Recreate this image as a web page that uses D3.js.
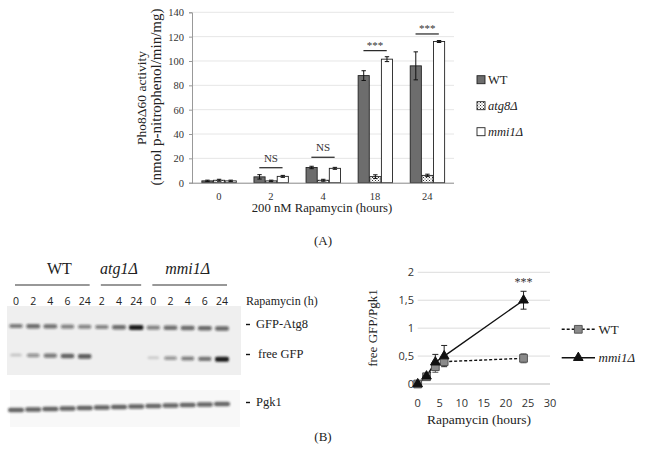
<!DOCTYPE html>
<html><head><meta charset="utf-8">
<script src="https://cdn.jsdelivr.net/npm/d3@7"></script>
<style>
html,body{margin:0;padding:0;background:#fff;}
svg{display:block;}
</style></head>
<body>
<script>
// ---------- Panel A data ----------
const categories = ["0", "2", "4", "18", "24"];
const seriesNames = ["WT", "atg8Δ", "mmi1Δ"];
const wtValues   = [1.5, 4.8, 12.5, 88, 96];
const wtErrors   = [0.6, 1.8, 1.0, 4, 11.5];
const atg8Values = [2, 1.5, 2, 5, 6];
const atg8Errors = [0.8, 0.6, 0.8, 1.5, 1];
const mmi1Values = [1.5, 5.2, 11.8, 101.5, 116];
const mmi1Errors = [0.6, 0.8, 0.8, 2, 0.8];
const yTicksA = [0, 20, 40, 60, 80, 100, 120, 140];
const sigCategories = ["2", "4", "18", "24"];
const sigLabels = ["NS", "NS", "***", "***"];
const sigLevels = [12.3, 20.9, 108.5, 122.2];

// ---------- Panel B blot data ----------
const laneGroups = ["WT", "atg1Δ", "mmi1Δ"];
const laneLabels = ["0","2","4","6","24","2","4","24","0","2","4","6","24"];
const gfpAtg8Intensity = [0.6,0.72,0.7,0.55,0.55,0.55,0.72,1.0,0.55,0.7,0.72,0.75,0.75];
const freeGfpIntensity = [0.1,0.45,0.65,0.78,0.82,0,0,0,0.06,0.42,0.58,0.68,1.0];
const pgk1Intensity    = [0.8,0.8,0.8,0.8,0.8,0.8,0.8,0.8,0.78,0.78,0.78,0.78,0.78];
const bandLabels = ["GFP-Atg8", "free GFP", "Pgk1"];

// ---------- Panel B line chart data ----------
const hours = [0, 2, 4, 6, 24];
const wtRatio = [0, 0.13, 0.31, 0.4, 0.46];
const wtRatioErr = [0, 0.02, 0.1, 0.05, 0.08];
const mmi1Ratio = [0, 0.14, 0.39, 0.5, 1.5];
const mmi1RatioErr = [0, 0.02, 0.14, 0.19, 0.16];
const yTicksB = [0, 0.5, 1, 1.5, 2];
const xTicksB = [0, 5, 10, 15, 20, 25, 30];

const SERIF = "'Liberation Serif', 'Times New Roman', serif";
const SANS = "'Open Sans', 'Liberation Sans', sans-serif";

const svg = d3.select("body").append("svg").attr("width", 648).attr("height", 451)
  .style("background", "#fff");
const defs = svg.append("defs");
const pat = defs.append("pattern").attr("id", "dots").attr("patternUnits", "userSpaceOnUse")
  .attr("width", 3).attr("height", 3);
pat.append("rect").attr("width", 3).attr("height", 3).attr("fill", "#fff");
pat.append("rect").attr("x", 0).attr("y", 0).attr("width", 1).attr("height", 1).attr("fill", "#333");
pat.append("rect").attr("x", 1.5).attr("y", 1.5).attr("width", 1).attr("height", 1).attr("fill", "#555");
const blur = defs.append("filter").attr("id", "blur").attr("x", "-50%").attr("y", "-100%").attr("width", "200%").attr("height", "300%");
blur.append("feGaussianBlur").attr("stdDeviation", "1.1 0.9");

// ================= Panel A =================
const xA = d3.scaleBand().domain(categories).range([192, 454]).paddingInner(0.33).paddingOuter(0.18);
const xSub = d3.scaleBand().domain(seriesNames).range([0, xA.bandwidth()]);
const yA = d3.scaleLinear().domain([0, 140]).range([182.7, 12.3]);

const gA = svg.append("g");
gA.append("g").selectAll("line").data(yTicksA.slice(1)).join("line")
  .attr("x1", 192).attr("x2", 454).attr("y1", d => yA(d)).attr("y2", d => yA(d))
  .attr("stroke", "#e6e6e6").attr("stroke-width", 1);
const yAxisA = gA.append("g").attr("transform", "translate(192,0)")
  .call(d3.axisLeft(yA).tickValues(yTicksA).tickSize(3).tickPadding(5));
yAxisA.select(".domain").attr("stroke", "#999");
yAxisA.selectAll(".tick line").attr("stroke", "#999");
yAxisA.selectAll("text").attr("font-family", SERIF).attr("font-size", 10.5).attr("fill", "#333");

const seriesA = [
  {name: "WT", vals: wtValues, errs: wtErrors, fill: "#6d6d6d"},
  {name: "atg8Δ", vals: atg8Values, errs: atg8Errors, fill: "url(#dots)"},
  {name: "mmi1Δ", vals: mmi1Values, errs: mmi1Errors, fill: "#fff"}
];
seriesA.forEach(s => {
  const rows = categories.map((c, i) => ({c, v: s.vals[i], e: s.errs[i]}));
  const g = gA.append("g");
  g.selectAll("rect").data(rows).join("rect")
    .attr("x", d => xA(d.c) + xSub(s.name) + 0.5)
    .attr("width", xSub.bandwidth() - 0.5)
    .attr("y", d => yA(d.v)).attr("height", d => yA(0) - yA(d.v))
    .attr("fill", s.fill).attr("stroke", "#222").attr("stroke-width", 0.9);
  const cx = d => xA(d.c) + xSub(s.name) + xSub.bandwidth() / 2 + 0.25;
  g.selectAll("line.eb").data(rows).join("line").attr("class", "eb")
    .attr("x1", cx).attr("x2", cx).attr("y1", d => yA(d.v + d.e)).attr("y2", d => yA(Math.max(0, d.v - d.e)))
    .attr("stroke", "#111").attr("stroke-width", 1);
  ["top", "bot"].forEach(k => {
    g.selectAll("line." + k).data(rows).join("line").attr("class", k)
      .attr("x1", d => cx(d) - 2.2).attr("x2", d => cx(d) + 2.2)
      .attr("y1", d => yA(k === "top" ? d.v + d.e : Math.max(0, d.v - d.e)))
      .attr("y2", d => yA(k === "top" ? d.v + d.e : Math.max(0, d.v - d.e)))
      .attr("stroke", "#111").attr("stroke-width", 1);
  });
});
const xAxisA = gA.append("g").attr("transform", `translate(0,${yA(0)})`)
  .call(d3.axisBottom(xA).tickSize(0).tickPadding(10));
xAxisA.select(".domain").attr("stroke", "#888").attr("d", "M192,0.5H454");
xAxisA.selectAll("text").attr("font-family", SERIF).attr("font-size", 10.5).attr("fill", "#333");

sigCategories.forEach((c, i) => {
  const x1 = xA(c) + xSub("WT") + xSub.bandwidth() / 2;
  const x2 = xA(c) + xSub("mmi1Δ") + xSub.bandwidth() / 2;
  const y = yA(sigLevels[i]);
  gA.append("line").attr("x1", x1).attr("x2", x2).attr("y1", y).attr("y2", y)
    .attr("stroke", "#222").attr("stroke-width", 1.2);
  gA.append("text").attr("x", (x1 + x2) / 2).attr("y", sigLabels[i] === "NS" ? y - 6 : y - 2)
    .attr("text-anchor", "middle").attr("font-family", SERIF)
    .attr("font-size", 11).attr("fill", "#333").text(sigLabels[i]);
});

gA.append("text").attr("x", 322).attr("y", 212).attr("text-anchor", "middle")
  .attr("font-family", SERIF).attr("font-size", 12.7).attr("fill", "#222").text("200 nM Rapamycin (hours)");
gA.append("text").attr("transform", "translate(146,98) rotate(-90)").attr("text-anchor", "middle")
  .attr("font-family", SERIF).attr("font-size", 13.5).attr("fill", "#222").text("Pho8Δ60 activity");
gA.append("text").attr("transform", "translate(161,97) rotate(-90)").attr("text-anchor", "middle")
  .attr("font-family", SERIF).attr("font-size", 15).attr("fill", "#222").text("(nmol p-nitrophenol/min/mg)");

seriesA.forEach((s, i) => {
  const y = 79.7 + i * 26;
  gA.append("rect").attr("x", 477).attr("y", y - 4).attr("width", 8).attr("height", 8)
    .attr("fill", s.fill).attr("stroke", "#222").attr("stroke-width", 0.9);
  gA.append("text").attr("x", 488).attr("y", y + 4.3).attr("font-family", SERIF)
    .attr("font-size", 12.5).attr("fill", "#222").attr("font-style", s.name === "WT" ? "normal" : "italic")
    .text(s.name);
});

svg.append("text").attr("x", 323).attr("y", 245).attr("text-anchor", "middle")
  .attr("font-family", SERIF).attr("font-size", 13).attr("fill", "#222").text("(A)");
svg.append("text").attr("x", 323).attr("y", 441).attr("text-anchor", "middle")
  .attr("font-family", SERIF).attr("font-size", 13).attr("fill", "#222").text("(B)");

// ================= Panel B blot =================
const lanes = d3.range(laneLabels.length);
const xL = d3.scaleLinear().domain([0, 12]).range([16, 222]);
const gB = svg.append("g");
const groupSpans = [[0, 4], [5, 7], [8, 12]];
laneGroups.forEach((name, i) => {
  const [a, b] = groupSpans[i];
  const cx = (xL(a) + xL(b)) / 2;
  gB.append("text").attr("x", cx + (i === 0 ? 9 : 0)).attr("y", 274).attr("text-anchor", "middle")
    .attr("font-family", SERIF).attr("font-size", 16).attr("font-style", i === 0 ? "normal" : "italic")
    .attr("fill", "#222").text(name);
  gB.append("line").attr("x1", xL(a) - 1).attr("x2", xL(b) + 5).attr("y1", 285).attr("y2", 285)
    .attr("stroke", "#333").attr("stroke-width", 1.1);
});
gB.selectAll("text.lane").data(lanes).join("text").attr("class", "lane")
  .attr("x", d => xL(d)).attr("y", 305).attr("text-anchor", "middle")
  .attr("font-family", SANS).attr("font-size", 10.5).attr("fill", "#222").text(d => laneLabels[d]);
gB.append("text").attr("x", 246).attr("y", 305).attr("font-family", SERIF).attr("font-size", 12)
  .attr("fill", "#222").text("Rapamycin (h)");

gB.append("rect").attr("x", 7).attr("y", 306).attr("width", 234).attr("height", 69).attr("fill", "#efefef");
gB.append("rect").attr("x", 10).attr("y", 390).attr("width", 230).attr("height", 37).attr("fill", "#f8f8f8");

function bands(intens, yFn, baseW, baseH) {
  gB.append("g").attr("filter", "url(#blur)").selectAll("rect").data(lanes).join("rect")
    .attr("x", d => xL(d) - (baseW + 2.5 * intens[d]) / 2)
    .attr("width", d => baseW + 2.5 * intens[d])
    .attr("y", d => yFn(d) - (baseH * (0.7 + 0.5 * intens[d])) / 2)
    .attr("height", d => baseH * (0.7 + 0.5 * intens[d]))
    .attr("rx", 2)
    .attr("fill", "#1a1a1a").attr("opacity", d => intens[d] === 0 ? 0 : Math.min(1, 0.1 + 0.72 * intens[d] + (intens[d] >= 1 ? 0.18 : 0)));
}
bands(gfpAtg8Intensity, d => 326 + d * 0.2, 12, 4.2);
bands(freeGfpIntensity, d => 355 + d * 0.35, 11.5, 4.2);
bands(pgk1Intensity, d => 410 - d * 0.5, 14, 4.2);

const bandY = [328, 358, 406];
bandLabels.forEach((t, i) => {
  gB.append("line").attr("x1", 246).attr("x2", 250).attr("y1", bandY[i] - 3.5).attr("y2", bandY[i] - 3.5)
    .attr("stroke", "#111").attr("stroke-width", 1.4);
  gB.append("text").attr("x", i === 1 ? 258 : 256).attr("y", bandY[i]).attr("font-family", SERIF)
    .attr("font-size", 12.5).attr("fill", "#222").text(t);
});

// ================= Panel B line chart =================
const xC = d3.scaleLinear().domain([0, 30]).range([417.7, 550]);
const yC = d3.scaleLinear().domain([0, 2]).range([384, 272.3]);
const gC = svg.append("g");
gC.append("g").selectAll("line").data(yTicksB).join("line")
  .attr("x1", 417.7).attr("x2", 550).attr("y1", d => yC(d)).attr("y2", d => yC(d))
  .attr("stroke", d => d === 0 ? "#bbb" : "#dcdcdc").attr("stroke-width", 1);
const fmt = d => String(d).replace(".", ",");
gC.append("g").selectAll("text").data(yTicksB).join("text")
  .attr("x", 414).attr("y", d => yC(d) + 4).attr("text-anchor", "end")
  .attr("font-family", SANS).attr("font-size", 11).attr("fill", "#333").text(fmt);
gC.append("g").selectAll("text").data(xTicksB).join("text")
  .attr("x", d => xC(d)).attr("y", 406.5).attr("text-anchor", "middle")
  .attr("font-family", SANS).attr("font-size", 11).attr("fill", "#333").text(d => d);
gC.append("text").attr("x", 479).attr("y", 424).attr("text-anchor", "middle")
  .attr("font-family", SERIF).attr("font-size", 13.5).attr("fill", "#222").text("Rapamycin (hours)");
gC.append("text").attr("transform", "translate(377,328) rotate(-90)").attr("text-anchor", "middle")
  .attr("font-family", SERIF).attr("font-size", 13).attr("fill", "#222").text("free GFP/Pgk1");

const lineSeries = [
  {name: "WT", v: wtRatio, e: wtRatioErr, dash: "3,2", marker: "square"},
  {name: "mmi1Δ", v: mmi1Ratio, e: mmi1RatioErr, dash: null, marker: "triangle"}
];
const symFor = s => d3.symbol().type(s.marker === "square" ? d3.symbolSquare : d3.symbolTriangle)
  .size(s.marker === "square" ? 60 : 40);
const lineGen = d3.line().x(d => xC(d.h)).y(d => yC(d.v));
lineSeries.forEach(s => {
  const pts = hours.map((h, i) => ({h, v: s.v[i], e: s.e[i]}));
  const g = gC.append("g");
  const ec = s.marker === "square" ? "#555" : "#222";
  pts.filter(p => p.e > 0).forEach(p => {
    const cx = xC(p.h);
    g.append("line").attr("x1", cx).attr("x2", cx).attr("y1", yC(p.v + p.e)).attr("y2", yC(p.v - p.e))
      .attr("stroke", ec).attr("stroke-width", 1);
    [p.v + p.e, p.v - p.e].forEach(yv => g.append("line").attr("x1", cx - 3).attr("x2", cx + 3)
      .attr("y1", yC(yv)).attr("y2", yC(yv)).attr("stroke", ec).attr("stroke-width", 1));
  });
  g.append("path").datum(pts).attr("d", lineGen).attr("fill", "none").attr("stroke", "#111")
    .attr("stroke-width", 1.4).attr("stroke-dasharray", s.dash);
});
lineSeries.forEach(s => {
  const pts = hours.map((h, i) => ({h, v: s.v[i]}));
  gC.append("g").selectAll("path").data(pts).join("path")
    .attr("transform", d => `translate(${xC(d.h)},${yC(d.v)})`)
    .attr("d", symFor(s))
    .attr("fill", s.marker === "square" ? "#8a8a8a" : "#111")
    .attr("stroke", s.marker === "square" ? "#555" : "#111").attr("stroke-width", 1);
});
gC.append("text").attr("x", xC(24)).attr("y", yC(1.76)).attr("text-anchor", "middle")
  .attr("font-family", SERIF).attr("font-size", 12).attr("fill", "#333").text("***");

lineSeries.forEach((s, i) => {
  const y = 329.3 + i * 28.4;
  gC.append("line").attr("x1", 561.7).attr("x2", 595).attr("y1", y).attr("y2", y)
    .attr("stroke", "#111").attr("stroke-width", 1.4).attr("stroke-dasharray", s.dash);
  gC.append("path").attr("transform", `translate(578.3,${y})`)
    .attr("d", symFor(s))
    .attr("fill", s.marker === "square" ? "#8a8a8a" : "#111")
    .attr("stroke", s.marker === "square" ? "#555" : "#111");
  gC.append("text").attr("x", 598.5).attr("y", y + 4.5).attr("font-family", SERIF)
    .attr("font-size", 13).attr("font-style", s.name === "WT" ? "normal" : "italic")
    .attr("fill", "#222").text(s.name);
});
</script>
</body></html>
